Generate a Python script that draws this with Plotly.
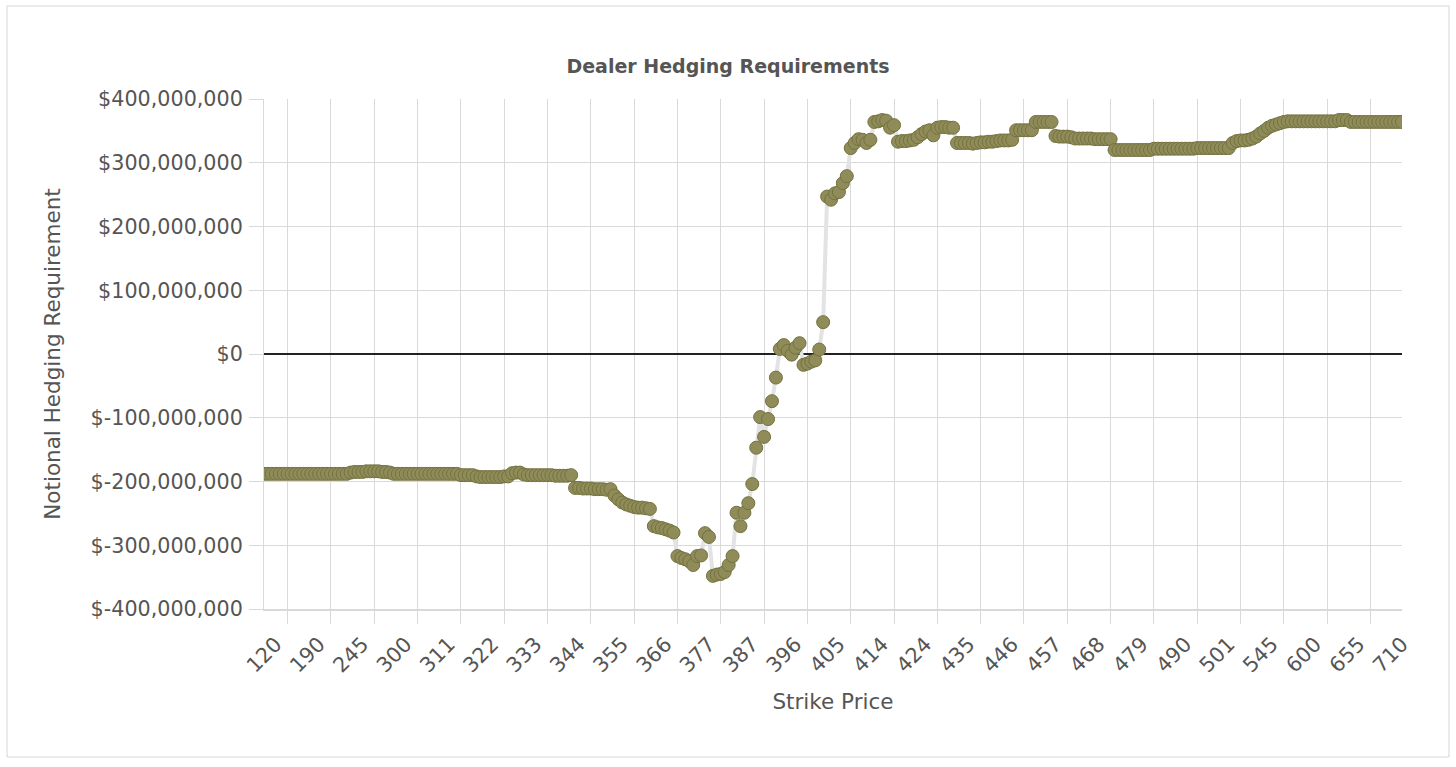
import plotly.graph_objects as go

# Strike price categories (x axis), in order
strikes = [
    105, 110, 115, 120, 125, 130, 135, 140, 145, 150,
    155, 160, 170, 180, 190, 195, 200, 205, 210, 215,
    220, 225, 230, 235, 240, 245, 250, 255, 260, 265,
    270, 275, 280, 285, 290, 295, 300, 301, 302, 303,
    304, 305, 306, 307, 308, 309, 310, 311, 312, 313,
    314, 315, 316, 317, 318, 319, 320, 321, 322, 323,
    324, 325, 326, 327, 328, 329, 330, 331, 332, 333,
    334, 335, 336, 337, 338, 339, 340, 341, 342, 343,
    344, 345, 346, 347, 348, 349, 350, 351, 352, 353,
    354, 355, 356, 357, 358, 359, 360, 361, 362, 363,
    364, 365, 366, 367, 368, 369, 370, 371, 372, 373,
    374, 375, 376, 377, 378, 379, 380, 381, 382, 382.5,
    383, 384, 385, 386, 387, 387.5, 388, 389, 390, 391,
    392, 392.5, 393, 394, 395, 396, 397, 397.5, 398, 399,
    400, 401, 402, 402.5, 403, 404, 405, 406, 407, 407.5,
    408, 409, 410, 411, 412, 412.5, 413, 414, 415, 416,
    417, 417.5, 418, 419, 420, 421, 422, 423, 424, 425,
    426, 427, 428, 429, 430, 431, 432, 433, 434, 435,
    436, 437, 438, 439, 440, 441, 442, 443, 444, 445,
    446, 447, 448, 449, 450, 451, 452, 453, 454, 455,
    456, 457, 458, 459, 460, 461, 462, 463, 464, 465,
    466, 467, 468, 469, 470, 471, 472, 473, 474, 475,
    476, 477, 478, 479, 480, 481, 482, 483, 484, 485,
    486, 487, 488, 489, 490, 491, 492, 493, 494, 495,
    496, 497, 498, 499, 500, 501, 502, 503, 505, 510,
    515, 520, 525, 530, 535, 540, 545, 550, 555, 560,
    565, 570, 575, 580, 585, 590, 595, 600, 605, 610,
    615, 620, 625, 630, 635, 640, 645, 650, 655, 660,
    665, 670, 675, 680, 685, 690, 695, 700, 705, 710,
]

# Notional hedging requirement per strike, in millions of USD
hedging_musd = [
    -188, -188, -188, -188, -188, -188, -188, -188, -188, -188,
    -188, -188, -188, -188, -188, -188, -188, -188, -188, -188,
    -188, -188, -186, -185, -185, -185, -184, -184, -184, -184,
    -185, -185, -186, -188, -188, -188, -188, -188, -188, -188,
    -188, -188, -188, -188, -188, -188, -188, -188, -188, -188,
    -190, -190, -190, -190, -192, -193, -193, -193, -193, -193,
    -193, -192, -192, -187, -186, -186, -189, -190, -190, -190,
    -190, -190, -190, -190, -191, -191, -191, -191, -190, -210,
    -210, -211, -211, -211, -212, -212, -212, -213, -212, -222,
    -228, -233, -236, -238, -240, -241, -241, -242, -243, -270,
    -272, -273, -275, -277, -280, -317, -320, -322, -325, -331,
    -317, -316, -281, -287, -348, -346, -345, -342, -331, -317,
    -249, -270, -249, -234, -204, -147, -99, -130, -102, -74,
    -37, 8, 14, 5, -1, 10, 17, -17, -15, -12,
    -10, 7, 50, 247, 242, 252, 254, 268, 279, 323,
    331, 337, 336, 331, 336, 364, 365, 367, 366, 355,
    359, 333, 334, 334, 335, 336, 340, 345, 349, 351,
    343, 355, 356, 356, 355, 355, 331, 331, 331, 331,
    330, 331, 332, 332, 333, 333, 334, 335, 335, 335,
    336, 351, 351, 351, 351, 351, 364, 364, 364, 364,
    364, 342, 341, 341, 341, 340, 338, 338, 338, 338,
    338, 337, 337, 337, 337, 337, 320, 320, 320, 320,
    320, 320, 320, 320, 320, 320, 322, 322, 322, 322,
    322, 322, 322, 322, 322, 322, 322, 323, 323, 323,
    323, 323, 323, 323, 323, 323, 331, 334, 335, 335,
    336, 338, 341, 346, 350, 355, 358, 360, 362, 364,
    365, 365, 365, 365, 365, 365, 365, 365, 365, 365,
    365, 365, 365, 367, 367, 367, 364, 364, 364, 364,
    364, 364, 364, 364, 364, 364, 364, 364, 364, 364,
]

# Strike labels shown on the x axis
x_tick_labels = [120, 190, 245, 300, 311, 322, 333, 344, 355, 366, 377, 387, 396,
                 405, 414, 424, 435, 446, 457, 468, 479, 490, 501, 545, 600, 655, 710]

# y axis ticks
y_tick_values = [-400e6, -300e6, -200e6, -100e6, 0, 100e6, 200e6, 300e6, 400e6]
y_tick_labels = ["$-400,000,000", "$-300,000,000", "$-200,000,000", "$-100,000,000", "$0",
                 "$100,000,000", "$200,000,000", "$300,000,000", "$400,000,000"]

FONT = "DejaVu Sans"
TXT = "#555555"
GRID = "#d9d9d9"

x_idx = list(range(len(strikes)))
y_vals = [v * 1e6 for v in hedging_musd]
tick_pos = [strikes.index(s) for s in x_tick_labels]
grid_pos = [p + 3 for p in tick_pos if p + 3 <= len(strikes) - 1]

fig = go.Figure()
fig.add_trace(go.Scatter(
    x=x_idx, y=y_vals, mode="lines+markers",
    customdata=strikes,
    hovertemplate="Strike %{customdata}<br>$%{y:,.0f}<extra></extra>",
    line=dict(color="#e3e3e3", width=4),
    marker=dict(size=13, color="#8f8c5a", line=dict(color="#74723f", width=1)),
    showlegend=False,
))

fig.update_layout(
    width=1456, height=767,
    margin=dict(l=264, r=54, t=99, b=158),
    paper_bgcolor="white", plot_bgcolor="white",
    font=dict(family=FONT, color=TXT, size=20.7),
    title=dict(text="<b>Dealer Hedging Requirements</b>", x=0.5, xref="container",
               y=1 - 66 / 767, yref="container", yanchor="middle", xanchor="center",
               font=dict(family=FONT, size=19, color=TXT)),
    shapes=[dict(type="rect", xref="paper", yref="paper",
                 x0=-0.2258, x1=1.0413, y0=-0.2902, y1=1.1824,
                 line=dict(color="#d6d6d6", width=1), fillcolor="rgba(0,0,0,0)", layer="below")],
)

fig.update_xaxes(
    type="linear", range=[0, len(strikes) - 1],
    tickmode="array", tickvals=tick_pos, ticktext=[str(s) for s in x_tick_labels],
    tickangle=-45, ticks="outside", ticklen=13, tickcolor="rgba(0,0,0,0)",
    tickfont=dict(size=20.7, color=TXT),
    showgrid=False, zeroline=False,
    showline=True, linecolor=GRID, linewidth=2,
    minor=dict(tickmode="array", tickvals=grid_pos, showgrid=True, gridcolor=GRID,
               gridwidth=1, ticks="outside", ticklen=13, tickcolor=GRID),
    title=dict(text="Strike Price", font=dict(size=21.5, color=TXT), standoff=18),
)

fig.update_yaxes(
    range=[-400e6, 400e6], tickmode="array", tickvals=y_tick_values, ticktext=y_tick_labels,
    tickfont=dict(size=20.7, color=TXT),
    showgrid=True, gridcolor=GRID, gridwidth=1,
    ticks="outside", ticklen=14, tickcolor=GRID,
    showline=True, linecolor=GRID, linewidth=1,
    zeroline=True, zerolinecolor="#222222", zerolinewidth=2,
    ticklabelstandoff=2,
    title=dict(text="Notional Hedging Requirement", font=dict(size=21.5, color=TXT), standoff=24),
)

fig.write_html("out.html")
